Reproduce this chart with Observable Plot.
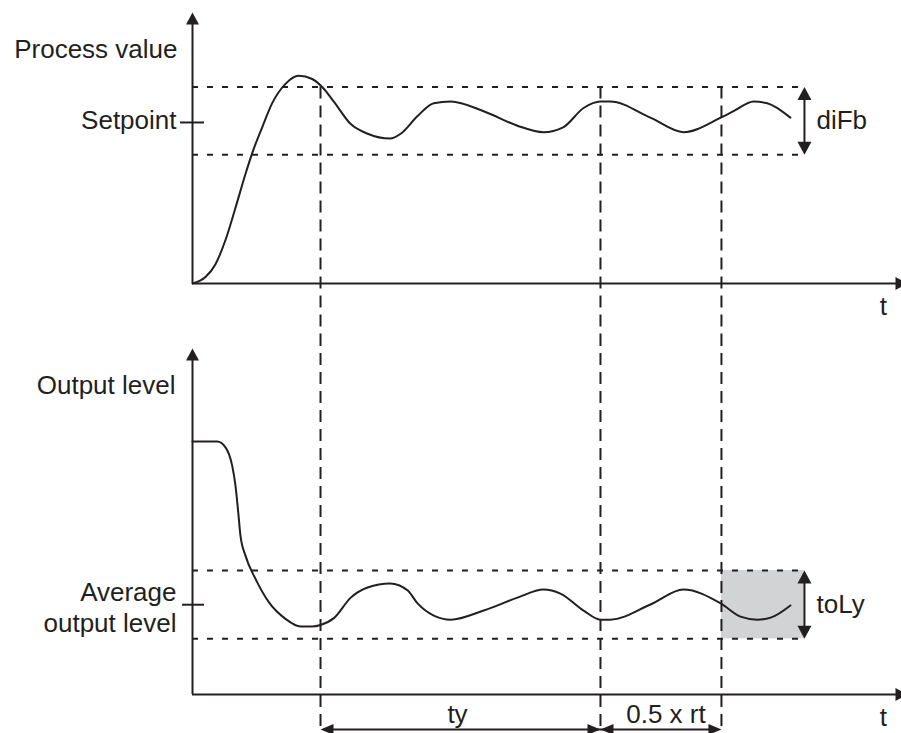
<!DOCTYPE html>
<html>
<head>
<meta charset="utf-8">
<script src="https://cdn.jsdelivr.net/npm/d3@7"></script>
<script src="https://cdn.jsdelivr.net/npm/@observablehq/plot@0.6"></script>
<style>
  html, body { margin: 0; padding: 0; background: #fff; overflow: hidden; }
  #chart svg { display: block; }
</style>
</head>
<body>
<div id="chart"></div>
<script>
// ---------- data ----------
// Process value curve: time units, value relative to setpoint (= 1)
const pvTime  = [0, 1.85, 3.27, 4.69, 6.11, 7.53, 8.49, 9.91, 11.33, 13.22, 15.11, 17.02, 18.44, 20.09, 22.5, 24.9, 28.1, 29.6, 32.0, 34.3, 36.7, 41.4, 46.2, 49.9, 52.7, 55.6, 58.0, 59.4, 65.1, 69.8, 75.1, 76.9, 79.8, 81.7, 85.0];
const pvValue = [0, 0.04, 0.12, 0.27, 0.47, 0.68, 0.81, 0.97, 1.12, 1.24, 1.29, 1.27, 1.22, 1.13, 0.99, 0.93, 0.90, 0.93, 1.04, 1.12, 1.13, 1.07, 0.98, 0.94, 0.97, 1.09, 1.13, 1.13, 1.03, 0.94, 1.03, 1.07, 1.13, 1.12, 1.03];

// Output level curve: time units, output in %
const outTime  = [0, 3.51, 4.69, 5.64, 6.11, 6.50, 6.82, 7.53, 8.96, 10.85, 13.22, 15.35, 17.02, 18.2, 20.1, 22.5, 24.9, 28.1, 30.6, 32.0, 34.3, 36.7, 41.4, 46.2, 49.9, 52.3, 55.6, 58.0, 59.4, 65.1, 69.8, 75.1, 77.9, 80.3, 82.2, 85.0];
const outValue = [100, 100, 97.7, 90.5, 82.6, 72.1, 62.8, 54.9, 45.7, 36.5, 29.9, 26.9, 26.9, 27.5, 30.2, 38.3, 42.3, 43.9, 41.1, 36.0, 31.2, 29.6, 33.2, 38.3, 41.5, 39.9, 33.2, 29.6, 29.6, 35.6, 41.5, 36.0, 30.8, 29.6, 30.4, 35.2];

const setpoint = 1.0;
const pvBand = [0.80, 1.22];          // diFb band
const avgOutput = 35.5;
const outBand = [22, 49];             // toLy band
const markerTimes = [18.2, 58.0, 75.2]; // dashed time markers
const bandEnd = 87.0;                 // end of bands / double arrows

const axisLabels  = ["Process value", "Output level"];
const levelLabels = ["Setpoint", "Average\noutput level"];
const bandLabels  = ["diFb", "toLy"];
const spanLabels  = ["ty", "0.5 x rt"];
const timeLabel   = "t";

// ---------- styling ----------
const ink = "#231f20";
const font = "'Liberation Sans', Arial, Helvetica, sans-serif";
const fs = 26;
const xScale = {domain: [0, 100], range: [192, 895.4]};
const xTip = 101.65;
const xLineEnd = 100.2;

function head(x, y, rotate, len = 12, r = 6.5) {
  return Plot.vector([0], {x, y, rotate, length: len, r, anchor: "end", shape: "spike",
    fill: ink, stroke: "none"});
}
const dotted = {stroke: ink, strokeWidth: 2, strokeDasharray: "6,9"};
const dashed = {stroke: ink, strokeWidth: 2, strokeDasharray: "12,7"};
const solid = {stroke: ink, strokeWidth: 2};
const txt = {fontSize: fs, fontFamily: font, fill: ink, text: d => d};

const pv = pvTime.map((t, i) => ({t, v: pvValue[i]}));
const out = outTime.map((t, i) => ({t, v: outValue[i]}));

// ---------- top panel ----------
const pvTop = 1.683;
const topPlot = Plot.plot({
  width: 901, height: 334,
  marginTop: 0, marginBottom: 0, marginLeft: 0, marginRight: 0,
  x: {...xScale, axis: null},
  y: {domain: [0, pvTop], range: [283, 12], axis: null},
  style: {fontFamily: font, background: "transparent"},
  marks: [
    Plot.ruleY(pvBand, {x1: 0, x2: bandEnd, ...dotted}),
    Plot.ruleX(markerTimes, {y1: pvBand[1], y2: -0.45, ...dashed}),
    Plot.ruleX([0], {y1: 0, y2: pvTop - 0.06, ...solid}),
    Plot.ruleY([0], {x1: 0, x2: xLineEnd, ...solid}),
    head(0, pvTop, 0, 12, 6.5),
    head(xTip, 0, 90, 12, 6.5),
    Plot.ruleY([setpoint], {x1: 0, x2: 0, insetLeft: -12, insetRight: -12, ...solid}),
    Plot.ruleX([bandEnd], {y1: pvBand[0] + 0.05, y2: pvBand[1] - 0.05, ...solid}),
    head(bandEnd, pvBand[1], 0, 13, 7),
    head(bandEnd, pvBand[0], 180, 13, 7),
    Plot.line(pv, {x: "t", y: "v", curve: "monotone-x", ...solid}),
    Plot.text([axisLabels[0]], {x: 0, y: 1.455, dx: -15, textAnchor: "end", ...txt}),
    Plot.text([levelLabels[0]], {x: 0, y: setpoint, dx: -16, dy: -2, textAnchor: "end", ...txt}),
    Plot.text([bandLabels[0]], {x: bandEnd, y: setpoint, dx: 12, dy: -2, textAnchor: "start", ...txt}),
    Plot.text([timeLabel], {x: 98.2, y: -0.147, ...txt})
  ]
});

// ---------- bottom panel ----------
const outTop = 136.8;
const spanY = -13.8;
const bottomPlot = Plot.plot({
  width: 901, height: 399,
  marginTop: 0, marginBottom: 0, marginLeft: 0, marginRight: 0,
  x: {...xScale, axis: null},
  y: {domain: [0, outTop], range: [360, 14], axis: null},
  style: {fontFamily: font, background: "transparent"},
  marks: [
    Plot.rect([0], {x1: markerTimes[2], x2: bandEnd, y1: outBand[0], y2: outBand[1], fill: "#d1d3d4"}),
    Plot.ruleY(outBand, {x1: 0, x2: bandEnd, ...dotted}),
    Plot.ruleX(markerTimes, {...dashed}),
    Plot.ruleX([0], {y1: 0, y2: outTop - 4, ...solid}),
    Plot.ruleY([0], {x1: 0, x2: xLineEnd, ...solid}),
    head(0, outTop, 0, 12, 6.5),
    head(xTip, 0, 90, 12, 6.5),
    Plot.ruleY([avgOutput], {x1: 0, x2: 0, insetLeft: -10, insetRight: -12, ...solid}),
    Plot.ruleX([bandEnd], {y1: outBand[0] + 2, y2: outBand[1] - 2, ...solid}),
    head(bandEnd, outBand[1], 0, 13, 7),
    head(bandEnd, outBand[0], 180, 13, 7),
    Plot.line(out, {x: "t", y: "v", curve: "monotone-x", ...solid}),
    // time-span arrows
    Plot.ruleY([spanY], {x1: markerTimes[0] + 0.5, x2: markerTimes[2] - 0.5, ...solid}),
    head(markerTimes[0], spanY, 270, 13, 5.5),
    head(markerTimes[1], spanY, 90, 13, 5.5),
    head(markerTimes[1], spanY, 270, 13, 5.5),
    head(markerTimes[2], spanY, 90, 13, 5.5),
    Plot.text([axisLabels[1]], {x: 0, y: 122.3, dx: -17, textAnchor: "end", ...txt}),
    Plot.text([levelLabels[1]], {x: 0, y: avgOutput, dx: -16, dy: 2, lineHeight: 1.2, textAnchor: "end", ...txt}),
    Plot.text([bandLabels[1]], {x: bandEnd, y: avgOutput, dx: 12, textAnchor: "start", ...txt}),
    Plot.text([spanLabels[0]], {x: (markerTimes[0] + markerTimes[1]) / 2, y: -7.8, dx: -3, ...txt}),
    Plot.text([spanLabels[1]], {x: (markerTimes[1] + markerTimes[2]) / 2, y: -7.8, dx: 5, ...txt}),
    Plot.text([timeLabel], {x: 98.2, y: -9.0, ...txt})
  ]
});

const chart = document.getElementById("chart");
chart.appendChild(topPlot);
chart.appendChild(bottomPlot);
</script>
</body>
</html>
